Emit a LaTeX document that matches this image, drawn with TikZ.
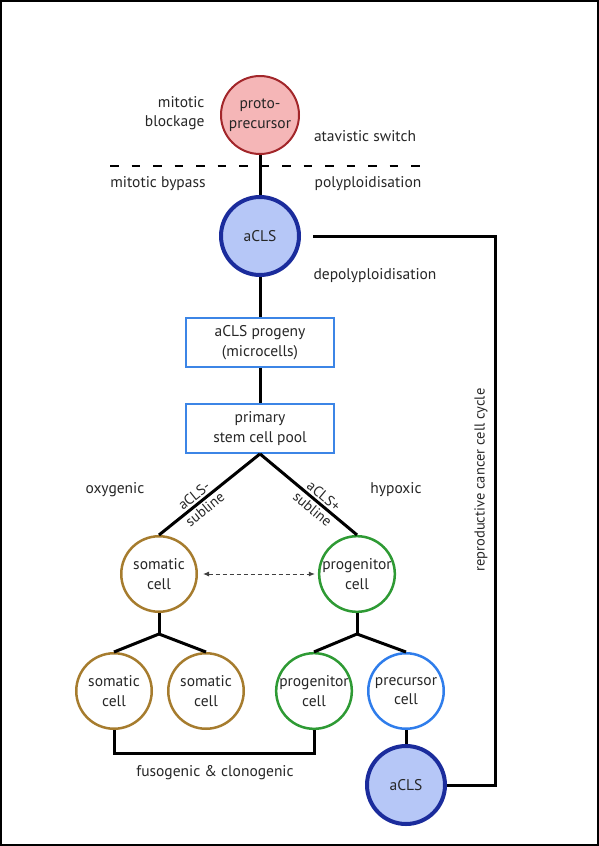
\documentclass[tikz,border=0pt]{standalone}
\usepackage{fontspec}
\setmainfont{PT Sans}
\usetikzlibrary{arrows.meta}

\definecolor{protofill}{HTML}{F5B6B7}
\definecolor{protoline}{HTML}{A2262A}
\definecolor{aclsfill}{HTML}{B6C7F7}
\definecolor{aclsline}{HTML}{1B2C9C}
\definecolor{boxblue}{HTML}{3C85E6}
\definecolor{somabrown}{HTML}{A67C2E}
\definecolor{proggreen}{HTML}{2E9A34}
\definecolor{precblue}{HTML}{2F7DEB}

\begin{document}
\begin{tikzpicture}[x=1pt,y=-1pt,
  every node/.style={font=\fontsize{15.5}{19.5}\selectfont, text=black!85, align=center},
  link/.style={line width=3pt},
  cell/.style={circle, line width=2.5pt, minimum size=75.5pt, inner sep=0pt},
  acls/.style={circle, draw=aclsline, fill=aclsfill, line width=4pt, minimum size=78pt, inner sep=0pt},
  box/.style={draw=boxblue, line width=1.8pt, minimum width=148pt, minimum height=49pt, inner sep=0pt},
  small/.style={font=\fontsize{14.5}{16}\selectfont, inner sep=1pt}]
\useasboundingbox (0,0) rectangle (599,846);
\draw[line width=2pt] (1,1) rectangle (598,845);

% top of the cycle
\node[circle, draw=protoline, fill=protofill, line width=2pt, minimum size=78pt, inner sep=0pt] (proto) at (260,115) {proto-\\precursor};
\node[anchor=east, align=right] (block) at (208,113) {mitotic\\blockage};
\node (atav) at (365,136) {atavistic switch};

\coordinate (dl) at (110,166); \coordinate (dr) at (422,166);
\draw[line width=2.5pt, dash pattern=on 8.5pt off 13pt] (dl) -- (dr);
\node (bypass) at (158,184) {mitotic bypass};
\node (poly) at (368,184) {polyploidisation};

\node[acls] (acls1) at (260,236) {aCLS};
\node (depoly) at (375,276) {depolyploidisation};
\draw[link] (proto) -- (acls1);

\node[box] (progeny) at (260,342.5) {aCLS progeny\\(microcells)};
\node[box] (pool) at (260,428.5) {primary\\stem cell pool};
\draw[link] (acls1) -- (progeny);
\draw[link] (progeny) -- (pool);

% two sublines
\node (oxy) at (115,490) {oxygenic};
\node (hyp) at (396,490) {hypoxic};
\node[cell, draw=somabrown] (soma) at (159,574) {somatic\\cell};
\node[cell, draw=proggreen] (prog) at (357,574) {progenitor\\cell};
\draw[link] (soma.north) -- node[pos=0.4, sloped, above=1pt, small]{aCLS-} node[pos=0.4, sloped, below=1pt, small]{subline} (pool.south);
\draw[link] (pool.south) -- node[pos=0.6, sloped, above=1pt, small]{aCLS+} node[pos=0.6, sloped, below=1pt, small]{subline} (prog.north);
\draw[{Latex[length=6pt,width=5pt]}-{Latex[length=6pt,width=5pt]}, line width=1pt, dash pattern=on 4pt off 3pt, black!75] ([xshift=5pt]soma.east) -- ([xshift=-3pt]prog.west);

% daughter cells
\foreach \x/\n/\c/\t in {114/soma1/somabrown/somatic, 206/soma2/somabrown/somatic, 314/prog1/proggreen/progenitor, 406/prec/precblue/precursor} {
\node[cell, draw=\c] (\n) at (\x,691) {\t\\cell};
}
\coordinate (sb) at (159,634);
\coordinate (pb) at (357,634);
\draw[link] (soma) -- (sb);
\draw[link] (prog) -- (pb);
\foreach \n in {soma1,soma2} \draw[link] (sb) -- (\n.north);
\foreach \n in {prog1,prec} \draw[link] (pb) -- (\n.north);

\draw[link] (soma1.south) -- ++(0,23) -| (prog1.south);
\node (fuso) at (215,773) {fusogenic \& clonogenic};

\node[acls] (acls2) at (406,785) {aCLS};
\draw[link] (prec) -- (acls2);

% back to the top
\coordinate (cyc) at (495,236);
\draw[link] (acls2.east) -| (cyc) -- ([xshift=12pt]acls1.east);
\node[rotate=90, small] (rcc) at (481,480) {reproductive cancer cell cycle};
\end{tikzpicture}
\end{document}
